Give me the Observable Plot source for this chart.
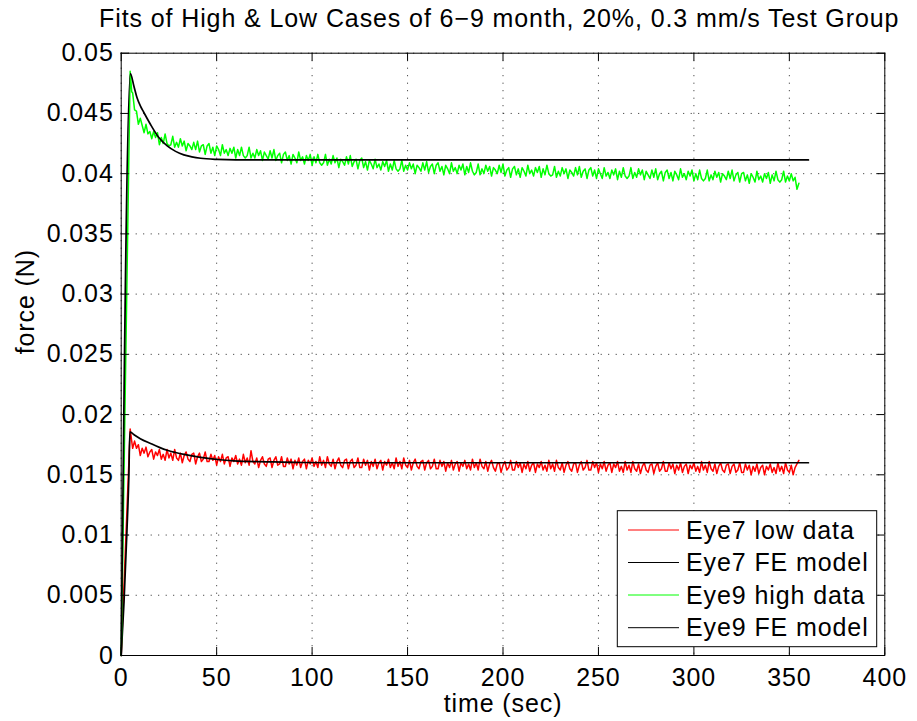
<!DOCTYPE html>
<html>
<head>
<meta charset="utf-8">
<script src="https://cdn.jsdelivr.net/npm/d3@7"></script>
<script src="https://cdn.jsdelivr.net/npm/@observablehq/plot@0.6"></script>
<style>
  html, body { margin: 0; padding: 0; background: #fff; overflow: hidden; }
  #wrap { position: relative; width: 917px; height: 721px; font-family: "Liberation Sans", Arial, Helvetica, sans-serif; }
  #title { position: absolute; left: 99px; top: 6px; width: 800px; text-align: center; white-space: nowrap;
           font-size: 25px; line-height: 25px; letter-spacing: 0.9px; color: #000; }
  #chart { position: absolute; left: 0; top: 40px; }
</style>
</head>
<body>
<div id="wrap">
  <div id="title">Fits of High &amp; Low Cases of 6−9 month, 20%, 0.3 mm/s Test Group</div>
  <div id="chart"></div>
</div>
<script>
// ---- texts ----
const xLabel = "time (sec)";
const yLabel = "force (N)";
const legendNames = ["Eye7 low data", "Eye7 FE model", "Eye9 high data", "Eye9 FE model"];
const legendColors = ["#ff0000", "#000000", "#00ff00", "#000000"];

// ---- ticks ----
const xTicks = [0, 50, 100, 150, 200, 250, 300, 350, 400];
const xTickLabels = ["0", "50", "100", "150", "200", "250", "300", "350", "400"];
const yTicks = [0, 0.005, 0.01, 0.015, 0.02, 0.025, 0.03, 0.035, 0.04, 0.045, 0.05];
const yTickLabels = ["0", "0.005", "0.01", "0.015", "0.02", "0.025", "0.03", "0.035", "0.04", "0.045", "0.05"];

// ---- measured data: shared sample times (sec) ----
const sampleTime = [0, 4.7, 5.5,
  6,7,8,9,10,11,12,13,14,15,16,17,18,19,20,21,22,23,24,25,
  26,27,28,29,30,31,32,33,34,35,36,37,38,39,40,41,42,43,44,45,
  46,47,48,49,50,51,52,53,54,55,56,57,58,59,60,61,62,63,64,65,
  66,67,68,69,70,71,72,73,74,75,76,77,78,79,80,81,82,83,84,85,
  86,87,88,89,90,91,92,93,94,95,96,97,98,99,100,101,102,103,104,105,
  106,107,108,109,110,111,112,113,114,115,116,117,118,119,120,121,122,123,124,125,
  126,127,128,129,130,131,132,133,134,135,136,137,138,139,140,141,142,143,144,145,
  146,147,148,149,150,151,152,153,154,155,156,157,158,159,160,161,162,163,164,165,
  166,167,168,169,170,171,172,173,174,175,176,177,178,179,180,181,182,183,184,185,
  186,187,188,189,190,191,192,193,194,195,196,197,198,199,200,201,202,203,204,205,
  206,207,208,209,210,211,212,213,214,215,216,217,218,219,220,221,222,223,224,225,
  226,227,228,229,230,231,232,233,234,235,236,237,238,239,240,241,242,243,244,245,
  246,247,248,249,250,251,252,253,254,255,256,257,258,259,260,261,262,263,264,265,
  266,267,268,269,270,271,272,273,274,275,276,277,278,279,280,281,282,283,284,285,
  286,287,288,289,290,291,292,293,294,295,296,297,298,299,300,301,302,303,304,305,
  306,307,308,309,310,311,312,313,314,315,316,317,318,319,320,321,322,323,324,325,
  326,327,328,329,330,331,332,333,334,335,336,337,338,339,340,341,342,343,344,345,
  346,347,348,349,350,351,352,353,354,355];

const eye7LowData = [0, .0188, .0178,
  .0172,.0178,.0172,.0175,.0166,.0172,.0168,.0173,.0165,.0169,.0171,.0163,.0169,.0166,.0171,.0163,.0167,.0162,.0171,.0164,
  .0168,.0162,.0171,.0164,.0162,.0168,.0160,.0166,.0169,.0163,.0161,.0167,.0168,.0159,.0165,.0168,.0161,.0163,.0169,.0161,
  .0161,.0167,.0162,.0166,.0158,.0165,.0161,.0167,.0159,.0164,.0165,.0157,.0164,.0161,.0166,.0159,.0163,.0158,.0167,.0160,
  .0164,.0158,.0170,.0161,.0159,.0164,.0156,.0162,.0165,.0159,.0157,.0163,.0164,.0156,.0162,.0165,.0158,.0159,.0165,.0157,
  .0157,.0164,.0159,.0163,.0155,.0162,.0158,.0164,.0156,.0161,.0163,.0155,.0162,.0159,.0164,.0157,.0161,.0156,.0165,.0158,
  .0162,.0156,.0165,.0159,.0157,.0163,.0155,.0161,.0164,.0158,.0156,.0162,.0163,.0155,.0161,.0163,.0156,.0158,.0164,.0156,
  .0156,.0163,.0158,.0162,.0154,.0161,.0157,.0163,.0155,.0160,.0162,.0154,.0161,.0158,.0163,.0156,.0160,.0155,.0164,.0157,
  .0161,.0155,.0164,.0158,.0156,.0162,.0154,.0160,.0163,.0157,.0155,.0161,.0162,.0154,.0160,.0162,.0155,.0157,.0163,.0155,
  .0155,.0162,.0157,.0161,.0153,.0160,.0156,.0162,.0154,.0159,.0161,.0153,.0160,.0157,.0162,.0155,.0159,.0154,.0163,.0156,
  .0160,.0154,.0163,.0157,.0155,.0161,.0153,.0159,.0162,.0156,.0153,.0159,.0160,.0152,.0158,.0161,.0154,.0156,.0162,.0154,
  .0154,.0161,.0156,.0160,.0152,.0159,.0155,.0161,.0153,.0158,.0160,.0152,.0159,.0156,.0161,.0154,.0158,.0153,.0162,.0155,
  .0159,.0153,.0162,.0156,.0154,.0160,.0152,.0158,.0161,.0155,.0153,.0159,.0160,.0152,.0158,.0161,.0154,.0156,.0162,.0154,
  .0154,.0161,.0156,.0160,.0152,.0159,.0155,.0161,.0153,.0158,.0160,.0152,.0159,.0156,.0161,.0153,.0157,.0152,.0161,.0154,
  .0158,.0152,.0161,.0155,.0153,.0159,.0151,.0157,.0160,.0154,.0152,.0158,.0159,.0151,.0157,.0160,.0153,.0155,.0161,.0153,
  .0153,.0160,.0155,.0159,.0151,.0158,.0154,.0160,.0152,.0157,.0159,.0151,.0158,.0155,.0160,.0153,.0157,.0152,.0161,.0154,
  .0158,.0152,.0161,.0155,.0153,.0159,.0151,.0157,.0160,.0154,.0152,.0158,.0159,.0151,.0157,.0159,.0152,.0154,.0160,.0152,
  .0152,.0159,.0154,.0158,.0150,.0157,.0153,.0159,.0151,.0156,.0158,.0150,.0157,.0154,.0159,.0152,.0156,.0151,.0160,.0153,
  .0157,.0151,.0160,.0154,.0152,.0158,.0150,.0156,.0159,.0162];

const eye9HighData = [0, .0485, .0468,
  .0467,.0453,.0452,.0441,.0446,.0440,.0434,.0441,.0433,.0435,.0429,.0435,.0430,.0434,.0424,.0430,.0425,.0433,.0425,.0423,
  .0424,.0431,.0422,.0426,.0422,.0429,.0423,.0427,.0419,.0425,.0423,.0420,.0426,.0420,.0427,.0418,.0423,.0424,.0416,.0423,
  .0425,.0417,.0422,.0415,.0423,.0420,.0415,.0424,.0417,.0420,.0415,.0421,.0417,.0422,.0413,.0420,.0415,.0422,.0415,.0413,
  .0415,.0422,.0413,.0417,.0413,.0420,.0415,.0419,.0411,.0418,.0415,.0412,.0419,.0413,.0420,.0411,.0415,.0417,.0409,.0416,
  .0418,.0411,.0415,.0408,.0416,.0413,.0409,.0418,.0411,.0414,.0408,.0415,.0411,.0416,.0407,.0414,.0409,.0416,.0409,.0407,
  .0409,.0416,.0407,.0412,.0408,.0415,.0409,.0413,.0405,.0412,.0410,.0407,.0414,.0408,.0415,.0406,.0410,.0412,.0404,.0411,
  .0413,.0405,.0410,.0403,.0411,.0408,.0404,.0412,.0405,.0408,.0403,.0410,.0406,.0411,.0402,.0408,.0403,.0411,.0404,.0402,
  .0404,.0411,.0402,.0407,.0403,.0409,.0404,.0408,.0400,.0407,.0405,.0402,.0409,.0403,.0410,.0401,.0406,.0408,.0400,.0407,
  .0409,.0402,.0406,.0399,.0407,.0404,.0400,.0409,.0402,.0405,.0400,.0407,.0403,.0408,.0399,.0406,.0401,.0409,.0402,.0399,
  .0401,.0408,.0399,.0404,.0400,.0407,.0402,.0406,.0398,.0405,.0403,.0400,.0407,.0401,.0408,.0398,.0403,.0405,.0397,.0404,
  .0406,.0399,.0404,.0397,.0405,.0402,.0398,.0407,.0400,.0403,.0398,.0405,.0401,.0406,.0397,.0404,.0399,.0407,.0400,.0398,
  .0399,.0406,.0397,.0402,.0398,.0405,.0400,.0404,.0396,.0403,.0401,.0398,.0405,.0399,.0406,.0397,.0402,.0404,.0396,.0403,
  .0405,.0398,.0403,.0396,.0404,.0400,.0396,.0405,.0398,.0401,.0396,.0403,.0399,.0404,.0395,.0402,.0397,.0405,.0398,.0396,
  .0398,.0405,.0396,.0401,.0397,.0404,.0399,.0403,.0395,.0402,.0399,.0396,.0403,.0397,.0404,.0395,.0400,.0402,.0394,.0401,
  .0403,.0396,.0401,.0394,.0402,.0399,.0395,.0404,.0397,.0400,.0395,.0402,.0398,.0403,.0394,.0400,.0395,.0403,.0396,.0394,
  .0396,.0403,.0394,.0399,.0395,.0402,.0397,.0401,.0393,.0400,.0398,.0395,.0402,.0396,.0403,.0394,.0399,.0401,.0393,.0400,
  .0401,.0394,.0399,.0392,.0400,.0397,.0393,.0402,.0395,.0398,.0393,.0400,.0396,.0401,.0392,.0399,.0394,.0402,.0395,.0393,
  .0395,.0402,.0393,.0398,.0394,.0400,.0394,.0397,.0387,.0392];

// ---- FE model curves ----
const eye7ModelTime  = [0, 1.5, 3, 4, 4.54, 6.6, 10, 15.4, 20, 24.1, 28.5, 32.9, 41.6, 50.3, 59, 76.5, 94, 120, 360];
const eye7ModelForce = [0, 0.0045, 0.0103, 0.0148, 0.01856, 0.01834, 0.0180, 0.0176, 0.01728, 0.01704, 0.01685, 0.01669, 0.01644, 0.01627, 0.01616, 0.01608, 0.01602, 0.0160, 0.0160];
const eye9ModelTime  = [0, 4.8, 6.6, 8.3, 10.1, 11.8, 15.3, 19.7, 24.1, 28.5, 32.8, 37, 41.6, 50.3, 60, 360];
const eye9ModelForce = [0, 0.0483, 0.0473, 0.0463, 0.0456, 0.0451, 0.0441, 0.0430, 0.0423, 0.04185, 0.04156, 0.0414, 0.04128, 0.04118, 0.04114, 0.04114];

// ---- build tables ----
const zip = (ts, fs) => ts.slice(0, Math.min(ts.length, fs.length)).map((t, i) => ({t, f: fs[i]}));
const redRows = zip(sampleTime, eye7LowData);
const greenRows = zip(sampleTime, eye9HighData);
const m7Rows = zip(eye7ModelTime, eye7ModelForce);
const m9Rows = zip(eye9ModelTime, eye9ModelForce);

const xLab = new Map(xTicks.map((d, i) => [d, xTickLabels[i]]));
const yLab = new Map(yTicks.map((d, i) => [d, yTickLabels[i]]));

// ---- layout ----
const W = 917, H = 681, mT = 12.7, mB = 66, mL = 120.7, mR = 32.7;
const fw = W - mL - mR, fh = H - mT - mB, tk = 8;
const gridStyle = {stroke: "#000", strokeOpacity: 0.85, strokeWidth: 1, strokeDasharray: "1,6.5"};

const chart = Plot.plot({
  width: W, height: H,
  marginTop: mT, marginBottom: mB, marginLeft: mL, marginRight: mR,
  x: {domain: [0, 400]},
  y: {domain: [0, 0.05]},
  style: {fontFamily: "'Liberation Sans', Arial, Helvetica, sans-serif", fontSize: "25px", letterSpacing: "0.9px", color: "#000", background: "#fff", overflow: "visible"},
  marks: [
    Plot.gridX(xTicks, gridStyle),
    Plot.gridY(yTicks, gridStyle),
    Plot.line(redRows, {x: "t", y: "f", stroke: legendColors[0], strokeWidth: 1.5}),
    Plot.line(m7Rows, {x: "t", y: "f", stroke: legendColors[1], strokeWidth: 1.7, curve: "monotone-x"}),
    Plot.line(greenRows, {x: "t", y: "f", stroke: legendColors[2], strokeWidth: 1.5}),
    Plot.line(m9Rows, {x: "t", y: "f", stroke: legendColors[3], strokeWidth: 1.7, curve: "monotone-x"}),
    Plot.tickX(xTicks, {x: d => d, stroke: "#000", insetTop: fh - tk}),
    Plot.tickX(xTicks, {x: d => d, stroke: "#000", insetBottom: fh - tk}),
    Plot.tickY(yTicks, {y: d => d, stroke: "#000", insetRight: fw - tk}),
    Plot.tickY(yTicks, {y: d => d, stroke: "#000", insetLeft: fw - tk}),
    Plot.frame({stroke: "#000", strokeWidth: 1}),
    Plot.axisX(xTicks, {tickSize: 0, tickPadding: 13, tickFormat: d => xLab.get(d), label: null, fontSize: 25}),
    Plot.axisY(yTicks, {tickSize: 0, tickPadding: 7.5, tickFormat: d => yLab.get(d), label: null, fontSize: 25}),
    Plot.text([xLabel], {frameAnchor: "bottom", dy: 56, text: d => d, fontSize: 25}),
    Plot.text([yLabel], {frameAnchor: "left", dx: -95.7, rotate: -90, text: d => d, fontSize: 25})
  ]
});

document.getElementById("chart").appendChild(chart);

// ---- legend (inside plot, lower right) ----
const svg = d3.select(chart);
const lg = svg.append("g").attr("class", "legend").attr("text-anchor", "start");
const box = {x: 617.3, y: 470.7, w: 259.4, h: 136};
lg.append("rect").attr("x", box.x).attr("y", box.y).attr("width", box.w).attr("height", box.h)
  .attr("fill", "#fff").attr("stroke", "#000").attr("stroke-width", 1);
const rowY = [490, 522.5, 555, 587.7];
legendNames.forEach((name, i) => {
  lg.append("line").attr("x1", 628).attr("x2", 679).attr("y1", rowY[i]).attr("y2", rowY[i])
    .attr("stroke", legendColors[i]).attr("stroke-width", 1);
  lg.append("text").attr("x", 686).attr("y", rowY[i]).attr("dy", "0.35em")
    .attr("text-anchor", "start").attr("font-size", 25).attr("fill", "#000").text(name);
});
</script>
</body>
</html>
